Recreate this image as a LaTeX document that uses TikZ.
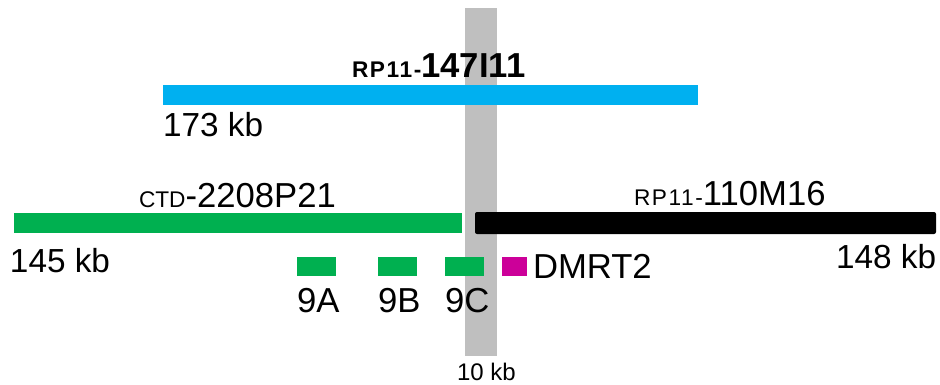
\documentclass[tikz,border=0pt]{standalone}
\usepackage{fontspec}
\setmainfont{Liberation Sans}
\definecolor{barblue}{HTML}{00B0F0}
\definecolor{bargreen}{HTML}{00B050}
\definecolor{bargray}{HTML}{BFBFBF}
\definecolor{genemag}{HTML}{CC0099}
\tikzset{
  lbl/.style={inner sep=0pt, outer sep=0pt, anchor=base west, text=black},
  big/.style={lbl, font=\fontsize{26}{28}\selectfont},
  kb/.style={lbl, font=\fontsize{25}{27}\selectfont},
}
\newcommand{\smalltxt}[1]{{\fontsize{17}{19}\selectfont #1}}
\newcommand{\smallsp}[1]{{\fontsize{17}{19}\selectfont\addfontfeatures{LetterSpace=7}#1}}
\newcommand{\bigtxt}[1]{{\fontsize{26}{28}\selectfont #1}}
\begin{document}
\begin{tikzpicture}[x=0.75pt,y=-0.75pt]
\useasboundingbox (0,0) rectangle (940,385);
% gray 10 kb band
\fill[bargray] (465,8) rectangle (497,356);
% BAC bars
\fill[barblue] (163,85) rectangle (698,105);
\fill[bargreen] (14,213) rectangle (462,233);
\fill[black, rounded corners=1.5pt] (475,212) rectangle (936,234);
% probe boxes
\fill[bargreen] (297,257) rectangle (336,276);
\fill[bargreen] (378,257) rectangle (417,276);
\fill[bargreen] (445,257) rectangle (484,276);
\fill[genemag] (502,257) rectangle (527,276);
% labels
\node[lbl] (t1) at (352,78) {\bfseries\smallsp{RP11-}\bigtxt{147I11}};
\node[kb] (s1) at (163,137) {173 kb};
\node[lbl] (t2) at (139,208) {\smalltxt{CTD}\bigtxt{-2208P21}};
\node[kb] (s2) at (10,272) {145 kb};
\node[lbl] (t3) at (634,205) {\smallsp{RP11-}\bigtxt{110M16}};
\node[kb] (s3) at (836,268) {148 kb};
\node[big] (g) at (533,278) {DMRT2};
\node[big] (p1) at (297,312) {9A};
\node[big] (p2) at (378,312) {9B};
\node[big] (p3) at (445,312) {9C};
\node[lbl, font=\fontsize{18}{20}\selectfont] (w) at (457,380) {10 kb};
\end{tikzpicture}
\end{document}
